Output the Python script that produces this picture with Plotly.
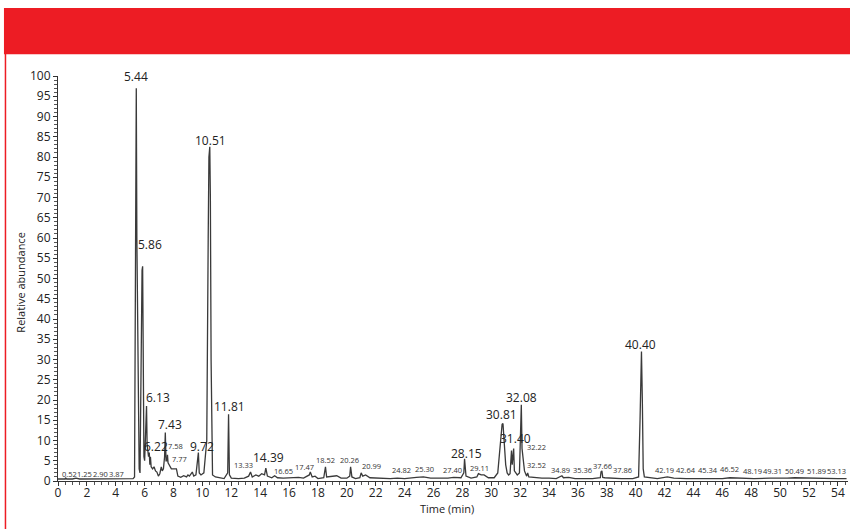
import plotly.graph_objects as go

# ---- chromatogram data (time in min, relative abundance %) ----
time_min = [0, 0.5, 0.52, 0.6, 1.0, 1.25, 1.5, 2.0, 2.5, 2.9, 3.3, 3.87, 4.3, 4.8, 5.2, 5.3,
            5.33, 5.38, 5.42, 5.46, 5.48, 5.52, 5.56, 5.62, 5.68, 5.74, 5.78, 5.82, 5.86, 5.9,
            5.95, 6.0, 6.05, 6.1, 6.13, 6.17, 6.22, 6.27, 6.32, 6.36, 6.4, 6.45, 6.55, 6.65,
            6.75, 6.85, 6.95, 7.05, 7.15, 7.22, 7.3, 7.38, 7.43, 7.48, 7.55, 7.58, 7.62, 7.7,
            7.77, 7.85, 8.0, 8.2, 8.3, 8.5, 8.7, 8.9, 9.0, 9.1, 9.3, 9.4, 9.55, 9.65, 9.72,
            9.78, 9.9, 10.1, 10.3, 10.4, 10.45, 10.51, 10.55, 10.6, 10.65, 10.7, 10.9, 11.2,
            11.5, 11.75, 11.81, 11.87, 12.0, 12.5, 12.9, 13.2, 13.33, 13.45, 13.7, 13.9, 14.1,
            14.3, 14.39, 14.5, 14.8, 15.0, 15.2, 15.6, 16.0, 16.65, 17.0, 17.4, 17.47, 17.6,
            17.8, 18.0, 18.4, 18.52, 18.6, 19.0, 19.3, 19.6, 20.0, 20.2, 20.26, 20.35, 20.6,
            20.9, 20.99, 21.1, 21.3, 21.6, 22.0, 22.5, 23.0, 23.5, 24.0, 24.82, 25.3, 25.8,
            26.5, 27.0, 27.4, 27.9, 28.1, 28.15, 28.25, 28.6, 29.0, 29.11, 29.3, 29.5, 29.8,
            30.2, 30.45, 30.6, 30.75, 30.81, 30.9, 31.0, 31.1, 31.2, 31.3, 31.35, 31.4, 31.45,
            31.5, 31.55, 31.6, 31.8, 31.95, 32.02, 32.08, 32.13, 32.18, 32.22, 32.3, 32.45,
            32.52, 32.6, 33.0, 33.5, 34.0, 34.5, 34.89, 35.0, 35.36, 35.8, 36.5, 37.0, 37.55,
            37.6, 37.66, 37.72, 37.86, 38.5, 39.0, 39.8, 40.2, 40.3, 40.36, 40.4, 40.46, 40.52,
            40.6, 41.0, 41.5, 42.19, 42.64, 43.5, 44.5, 45.34, 46.0, 46.52, 47.5, 48.19, 49.31,
            50.0, 50.49, 51.0, 51.89, 52.5, 53.13, 54.0, 54.6]
abundance = [0.5, 0.5, 0.8, 0.5, 0.5, 0.7, 0.5, 0.5, 0.5, 0.6, 0.5, 0.6, 0.5, 0.5, 0.6, 1.0,
             30, 70, 97, 60, 50, 48, 15, 3, 2, 20, 45, 52, 53, 20,
             6, 5, 10, 17, 18.5, 9, 6.5, 6, 7, 4, 6, 3.5, 3, 3.5,
             2.5, 2.2, 1.2, 1.8, 3.5, 2.5, 3, 6, 12, 5, 5, 6.5, 4.5, 4,
             3.5, 3, 3, 3, 1.2, 0.9, 1.3, 1.0, 1.5, 1.2, 2.2, 1.2, 1.5, 4, 7,
             2, 1.5, 2, 10, 60, 80, 82.5, 70, 30, 5, 1.5, 1.0, 0.8,
             0.6, 2, 16.5, 1.5, 0.7, 0.6, 0.7, 1.2, 2.2, 1.0, 1.5, 1.2, 1.8,
             1.5, 3.2, 1.2, 0.8, 1.3, 0.8, 0.7, 0.8, 0.9, 0.7, 1.5, 2.2, 1.0,
             1.2, 0.6, 0.8, 3.5, 1.0, 1.1, 1.3, 0.7, 0.7, 1.2, 3.5, 1.0, 0.6,
             0.8, 2.0, 1.2, 1.5, 0.8, 0.7, 0.6, 0.6, 0.7, 0.6, 0.9, 1.0, 0.7,
             0.6, 0.7, 0.9, 0.8, 2, 5.5, 1.2, 0.7, 1.0, 1.8, 1.5, 1.5, 0.8,
             0.8, 2, 8, 14, 14.2, 10, 4, 2, 1.5, 1.8, 7, 7.5, 4,
             7.5, 8, 2.5, 1.5, 2, 12, 18.8, 8, 6, 6.5, 2.5, 1.2,
             2, 1, 0.8, 0.7, 0.7, 0.6, 1.3, 0.8, 0.9, 0.6, 0.6, 0.6, 0.8,
             2.3, 2.5, 0.9, 0.8, 0.6, 0.6, 0.6, 1, 15, 31, 32, 20, 3,
             1, 0.8, 0.6, 1.0, 0.7, 0.6, 0.6, 0.7, 0.6, 0.8, 0.6, 0.6, 0.7,
             0.6, 0.7, 0.8, 0.7, 0.6, 0.6, 0.6, 0.6]

# ---- peak labels (retention times) ----
major_labels = ["5.44", "5.86", "10.51", "6.13", "7.43", "6.22", "9.72", "11.81",
                "14.39", "28.15", "30.81", "31.40", "32.08", "40.40"]
minor_labels = ["0.52", "1.25", "2.90", "3.87", "7.58", "7.77", "13.33", "16.65", "17.47",
                "18.52", "20.26", "20.99", "24.82", "25.30", "27.40", "29.11", "32.22",
                "32.52", "34.89", "35.36", "37.66", "37.86", "42.19", "42.64", "45.34",
                "46.52", "48.19", "49.31", "50.49", "51.89", "53.13"]

# label placement (data coordinates of text centres)
major_pos = [(5.40, 99.8), (6.36, 58.3), (10.56, 84.0), (6.90, 20.7), (7.74, 14.0),
             (6.77, 8.4), (9.95, 8.4), (11.90, 18.3), (14.60, 5.9), (28.30, 6.7),
             (30.70, 16.5), (31.70, 10.6), (32.10, 20.7), (40.35, 33.8)]
minor_pos = [(0.80, 1.8), (1.85, 1.8), (2.96, 1.8), (4.06, 1.8), (8.15, 8.6), (8.43, 5.4),
             (12.86, 4.0), (15.63, 2.4), (17.10, 3.5), (18.50, 5.2), (20.20, 5.2),
             (21.70, 3.7), (23.80, 2.7), (25.40, 3.0), (27.30, 2.6), (29.20, 3.2),
             (33.15, 8.4), (33.10, 4.0), (34.80, 2.6), (36.30, 2.7), (37.70, 3.7),
             (39.10, 2.6), (42.00, 2.6), (43.50, 2.6), (45.00, 2.6), (46.50, 2.9),
             (48.10, 2.4), (49.50, 2.4), (51.00, 2.4), (52.50, 2.4), (53.90, 2.4)]

FONT = "Open Sans"
RED = "#ED1C24"

fig = go.Figure()
fig.add_trace(go.Scatter(x=time_min, y=abundance, mode="lines",
                         line=dict(color="#3a3a3a", width=1.3), hoverinfo="x+y",
                         showlegend=False))

annotations = []
for txt, (x, y) in zip(major_labels, major_pos):
    annotations.append(dict(x=x, y=y, xref="x", yref="y", text=txt, showarrow=False,
                            xanchor="center", yanchor="middle",
                            font=dict(family=FONT, size=12, color="#222222")))
for txt, (x, y) in zip(minor_labels, minor_pos):
    annotations.append(dict(x=x, y=y, xref="x", yref="y", text=txt, showarrow=False,
                            xanchor="center", yanchor="middle",
                            font=dict(family=FONT, size=7.5, color="#333333")))

# axis titles
annotations.append(dict(x=-0.048, y=0.49, xref="paper", yref="paper", text="Relative abundance",
                        textangle=-90, showarrow=False, xanchor="center", yanchor="middle",
                        font=dict(family=FONT, size=11, color="#222222")))
annotations.append(dict(x=0.492, y=-0.067, xref="paper", yref="paper", text="Time (min)",
                        showarrow=False, xanchor="center", yanchor="middle",
                        font=dict(family=FONT, size=11, color="#222222")))

shapes = [
    dict(type="rect", xref="paper", yref="paper", x0=-0.0684, x1=1.01, y0=1.054, y1=1.168,
         fillcolor=RED, line=dict(width=0), layer="above"),
    dict(type="line", xref="paper", yref="paper", x0=-0.0665, x1=-0.0665, y0=-0.13, y1=1.06,
         line=dict(color=RED, width=1.5)),
]

fig.update_layout(
    width=850, height=529,
    margin=dict(l=58, r=2, t=76, b=48),
    paper_bgcolor="white", plot_bgcolor="white",
    font=dict(family=FONT, color="#222222"),
    annotations=annotations, shapes=shapes,
    xaxis=dict(range=[0, 54.7], tickmode="linear", tick0=0, dtick=2,
               showgrid=False, zeroline=False, showline=True, linecolor="#333333", linewidth=1,
               ticks="outside", ticklen=4, tickcolor="#333333", ticklabelstandoff=-3,
               minor=dict(dtick=0.5, ticks="outside", ticklen=3, tickcolor="#555555"),
               tickfont=dict(family=FONT, size=12, color="#222222")),
    yaxis=dict(range=[0, 100], tickmode="linear", tick0=0, dtick=5,
               showgrid=False, zeroline=False, showline=True, linecolor="#333333", linewidth=1,
               ticks="outside", ticklen=4, tickcolor="#333333",
               minor=dict(dtick=1, ticks="outside", ticklen=3, tickcolor="#555555"),
               tickfont=dict(family=FONT, size=12, color="#222222")),
)

fig.write_html("out.html", config={"displayModeBar": False},
               post_script="document.body.style.margin='0';")
